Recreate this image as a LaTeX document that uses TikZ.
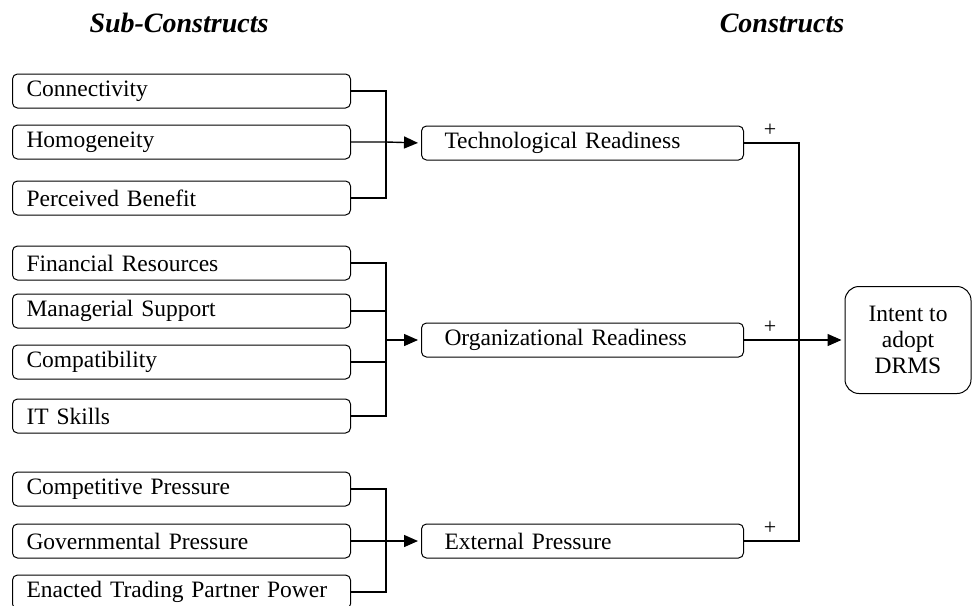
\documentclass[tikz,border=0pt]{standalone}
\usepackage{fontspec}
\setmainfont{Liberation Serif}
\usetikzlibrary{calc,arrows.meta}
\tikzset{
	subbox/.style={draw, rounded corners=5pt, line width=1pt, anchor=west, minimum height=34pt, text width=310pt, inner xsep=14pt, align=left, font=\fontsize{23.5}{26}\selectfont},
	conbox/.style={draw, rounded corners=5pt, line width=1pt, anchor=west, minimum height=34pt, text width=276pt, inner xsep=23pt, align=left, font=\fontsize{23.5}{26}\selectfont},
	head/.style={font=\fontsize{28}{30}\selectfont\bfseries\itshape},
	link/.style={line width=1.2pt},
	arr/.style={line width=1.4pt, -{Triangle[length=14pt,width=12pt]}, shorten >=3pt},
	plus/.style={font=\fontsize{22}{22}\selectfont, inner sep=0pt}
}

\begin{document}
\begin{tikzpicture}[x=1pt, y=-1pt]
			%%%%% START %%%%%
			\useasboundingbox (0, 0) rectangle (973, 605);
			\clip (0, 0) rectangle (973, 605);
			
			\node[head] (subhead) at (179, 23) {Sub-Constructs};
			\node[head] (conhead) at (782, 23) {Constructs};
			
			% sub-constructs
			\node[subbox] (conn) at (12, 91) {Connectivity};
			\node[subbox] (homo) at (12, 142) {Homogeneity};
			\node[subbox] (perc) at (12, 198) {Perceived Benefit};
			
			\node[subbox] (fin) at (12, 263) {Financial Resources};
			\node[subbox] (man) at (12, 311) {Managerial Support};
			\node[subbox] (comp) at (12, 362) {Compatibility};
			\node[subbox] (it) at (12, 416) {IT Skills};
			
			\node[subbox] (compet) at (12, 489) {Competitive Pressure};
			\node[subbox] (gov) at (12, 541) {Governmental Pressure};
			\node[subbox] (enact) at (12, 592) {Enacted Trading Partner Power};
			
			% constructs
			\node[conbox] (tech) at (421, 143) {Technological Readiness};
			\node[conbox] (org) at (421, 340) {Organizational Readiness};
			\node[conbox] (ext) at (421, 541) {External Pressure};
			
			\node[draw, rounded corners=14pt, line width=1pt, minimum width=126pt, minimum height=107pt, align=center, font=\fontsize{23.5}{26}\selectfont] (intent) at (908, 340) {Intent to\\adopt\\DRMS};
			
			% brackets
			\coordinate (tj) at (386, 143);
			\coordinate (oj) at (386, 340);
			\coordinate (ej) at (386, 541);
			\coordinate (rj) at (799, 340);
			
			\draw[link] (conn.east) -| (tj) |- (perc.east);
			\draw[arr] (homo.east) -- (homo.east -| tj) -- (tech.west);
			
			\draw[link] (fin.east) -| (oj) |- (it.east);
			\draw[link] (man.east) -- (man.east -| oj);
			\draw[link] (comp.east) -- (comp.east -| oj);
			\draw[arr] (oj) -- (org.west);
			
			\draw[link] (compet.east) -| (ej) |- (enact.east);
			\draw[arr] (gov.east) -- (ext.west);
			
			\draw[link] (tech.east) -| (rj) |- (ext.east);
			\draw[arr] (org.east) -- (intent.west);
			
			\node[plus] (p1) at ($(tech.east)+(26, -13)$) {+};
			\node[plus] (p2) at ($(org.east)+(26, -13)$) {+};
			\node[plus] (p3) at ($(ext.east)+(26, -13)$) {+};
			
			%%%%% END %%%%%
		\end{tikzpicture}
\end{document}
